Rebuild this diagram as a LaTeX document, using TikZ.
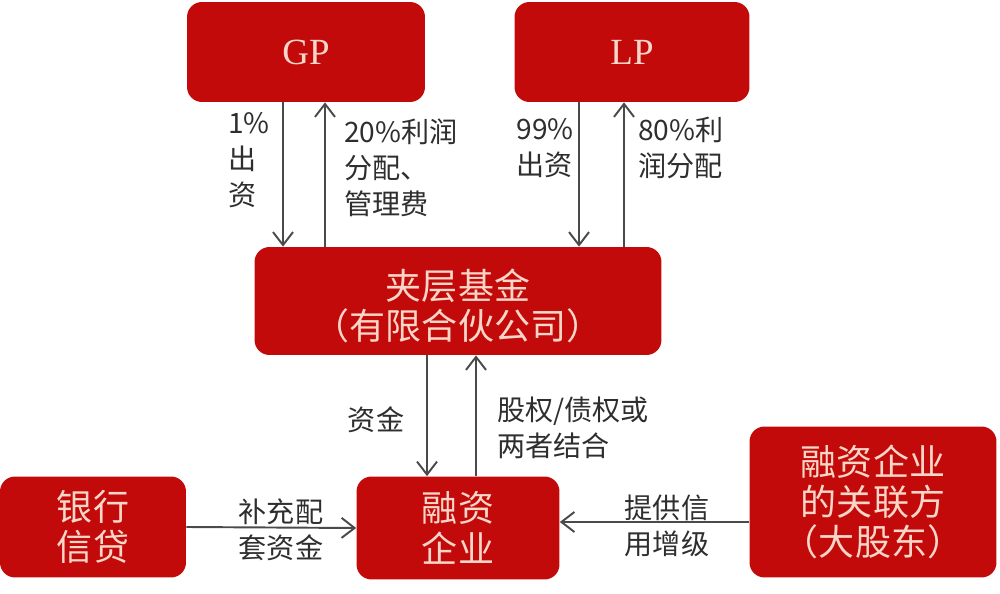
\documentclass[tikz,border=0pt]{standalone}
\usepackage{fontspec}
\setmainfont{Noto Sans CJK SC}
\newfontfamily\latinserif{Liberation Serif}
\usetikzlibrary{arrows.meta,calc}
\definecolor{boxred}{HTML}{C20A0A}
\definecolor{boxtext}{HTML}{F9D6C8}
\definecolor{labeltext}{HTML}{2E2E2E}
\definecolor{arrowgray}{HTML}{4A4A4A}
\tikzset{
  redbox/.style={fill=boxred, draw=none, rounded corners=0.3cm, text=boxtext, align=center, inner sep=0pt},
  boxfont/.style={font=\fontsize{20.5pt}{23pt}\selectfont},
  lbl/.style={text=labeltext, align=left, inner sep=0pt, font=\fontsize{16pt}{20.5pt}\selectfont},
  arr/.style={draw=arrowgray, line width=1.1pt, -{Straight Barb[length=0.26cm,width=0.4cm]}}
}
\begin{document}
\begin{tikzpicture}[x=0.02cm,y=-0.02cm]
\useasboundingbox (0,0) rectangle (1000,594);
% boxes
\node[redbox, minimum width=4.76cm, minimum height=2.0cm, font=\latinserif\fontsize{21pt}{24pt}\selectfont] (gp) at (306,52) {GP};
\node[redbox, minimum width=4.7cm, minimum height=2.0cm, font=\latinserif\fontsize{21pt}{24pt}\selectfont] (lp) at (632,52) {LP};
\node[redbox, minimum width=8.14cm, minimum height=2.16cm,
      label={[boxfont, text=boxtext, align=center, yshift=-0.1cm]center:夹层基金\\（有限合伙公司）}] (fund) at (458,301) {};
\node[redbox, boxfont, minimum width=3.72cm, minimum height=2.02cm] (bank) at (93,527) {银行\\信贷};
\node[redbox, boxfont, minimum width=4.06cm, minimum height=2.06cm] (comp) at (458,528) {融资\\企业};
\node[redbox, boxfont, minimum width=4.94cm, minimum height=3.02cm] (rel) at (873,502) {融资企业\\的关联方\\（大股东）};
% arrows GP
\draw[arr] ([xshift=-0.46cm]gp.south) -- ([xshift=-0.46cm]gp.south |- fund.north);
\draw[arr] ([xshift=0.38cm]gp.south |- fund.north) -- ([xshift=0.38cm]gp.south);
% arrows LP
\draw[arr] ([xshift=-1.06cm]lp.south) -- ([xshift=-1.06cm]lp.south |- fund.north);
\draw[arr] ([xshift=-0.16cm]lp.south |- fund.north) -- ([xshift=-0.16cm]lp.south);
% arrows fund <-> company
\draw[arr] ([xshift=-0.62cm]fund.south) -- ([xshift=-0.62cm]fund.south |- comp.north);
\draw[arr] ([xshift=0.36cm]fund.south |- comp.north) -- ([xshift=0.36cm]fund.south);
% horizontal arrows
\draw[arr] (bank.east) -- (comp.west);
\draw[arr] ([yshift=-0.4cm]rel.west) -- ([yshift=-0.4cm]rel.west -| comp.east);
% labels
\node[lbl] (l1) at (249,160) {1\%\\出\\资};
\node[lbl, anchor=west] (l2) at (344,168) {20\%利润\\分配、\\管理费};
\node[lbl] (l3) at (545,148) {99\%\\出资};
\node[lbl, anchor=west] (l4) at (638,148) {80\%利\\润分配};
\node[lbl] (l5) at (376,420) {资金};
\node[lbl, anchor=west] (l6) at (497,428) {股权/债权或\\两者结合};
\node[lbl] (l7) at (281,530) {补充配\\套资金};
\node[lbl] (l8) at (667,526) {提供信\\用增级};
\end{tikzpicture}
\end{document}
